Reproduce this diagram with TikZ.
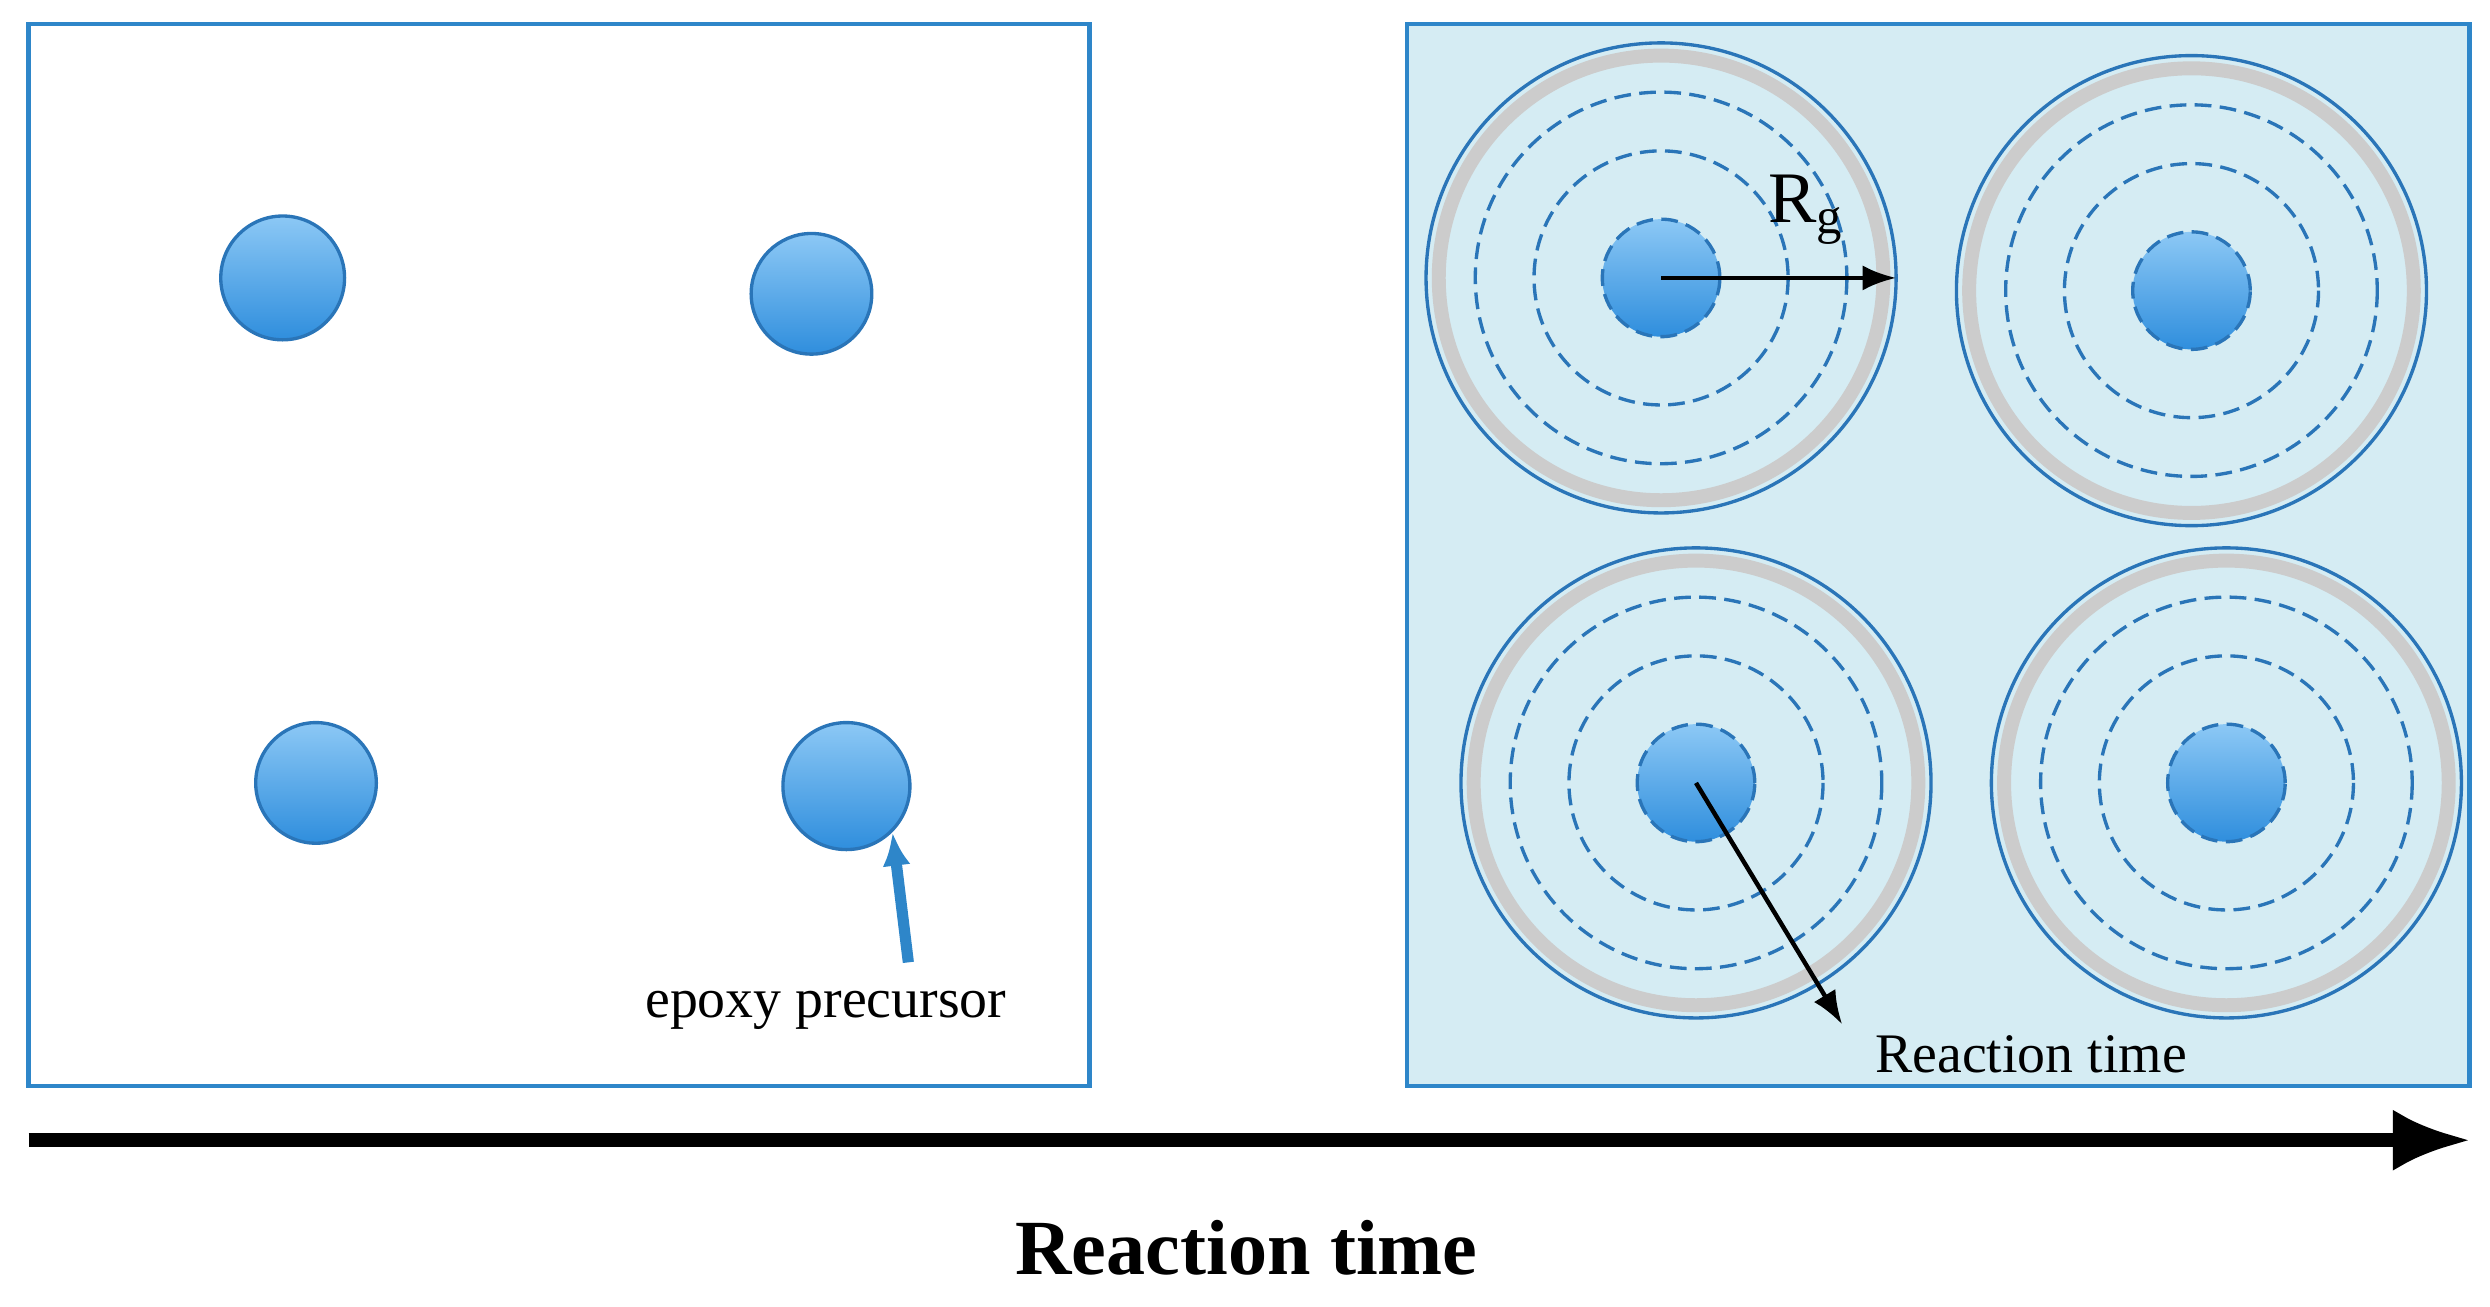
\documentclass[tikz,border=0pt]{standalone}
\usepackage{fontspec}
\setmainfont{Liberation Serif}
\usetikzlibrary{arrows.meta}
\begin{document}
\definecolor{bx}{HTML}{2E86C9}
\definecolor{lb}{HTML}{D5ECF3}
\definecolor{ctop}{HTML}{8CC8F5}
\definecolor{cbot}{HTML}{2F8EDD}
\definecolor{ring}{HTML}{2A75B8}
\begin{tikzpicture}[x=0.02cm,y=-0.02cm,
 box/.style={draw=bx,line width=1.6pt},
 dot/.style={circle,minimum size=#1*0.04cm,inner sep=0,top color=ctop,bottom color=cbot,draw=ring,line width=1.2pt},
 solidring/.style={draw=ring,line width=1.2pt},
 dashring/.style={draw=ring,line width=1.2pt,dash pattern=on 6pt off 3pt},
 lbl/.style={font=\fontsize{20}{22}\selectfont}]
\useasboundingbox (0,0) rectangle (1568,823);
\node[box,minimum width=668*0.02cm,minimum height=669*0.02cm,inner sep=0] (L) at (352,349.5) {};
\node[box,fill=lb,minimum width=669*0.02cm,minimum height=669*0.02cm,inner sep=0] (R) at (1220.5,349.5) {};
\node[dot=39] (a) at (178,175) {};
\node[dot=38] (b) at (511,185) {};
\node[dot=38] (c) at (199,493) {};
\node[dot=40] (d) at (533,495) {};
\node[lbl] (ep) at (520,636) {epoxy precursor};
\coordinate (ept) at (572,606);
\draw[-{Latex[length=12pt,width=10pt]},draw=bx,line width=4pt] (ept) -- (d.south east);
\foreach \n/\x/\y in {p1/1046/175,p2/1380/183,p3/1068/493,p4/1402/493}{
 \draw[gray!40,line width=5pt] (\x,\y) circle (140);
 \draw[solidring] (\x,\y) circle (148);
 \draw[dashring] (\x,\y) circle (117);
 \draw[dashring] (\x,\y) circle (80);
 \node[circle,minimum size=74*0.02cm,inner sep=0,top color=ctop,bottom color=cbot,draw=ring,line width=1.2pt,dash pattern=on 6pt off 3pt] (\n) at (\x,\y) {};
}
\coordinate (rg) at (1194,175);
\draw[-{Latex[length=12pt,width=9pt]},line width=1.6pt] (p1.center) -- (rg);
\node[font=\fontsize{26}{28}\selectfont] at (1137,132) {R\textsubscript{g}};
\coordinate (rt) at (1160,645);
\draw[-{Latex[length=12pt,width=9pt]},line width=1.6pt] (p3.center) -- (rt);
\node[lbl] (rtl) at (1279,664) {Reaction time};
\coordinate (ax0) at (18,718);
\coordinate (ax1) at (1556,718);
\draw[-{Latex[length=28pt,width=22pt]},line width=5pt] (ax0) -- (ax1);
\node[font=\bfseries\fontsize{28}{30}\selectfont] (t) at (785,786) {Reaction time};
\end{tikzpicture}
\end{document}
